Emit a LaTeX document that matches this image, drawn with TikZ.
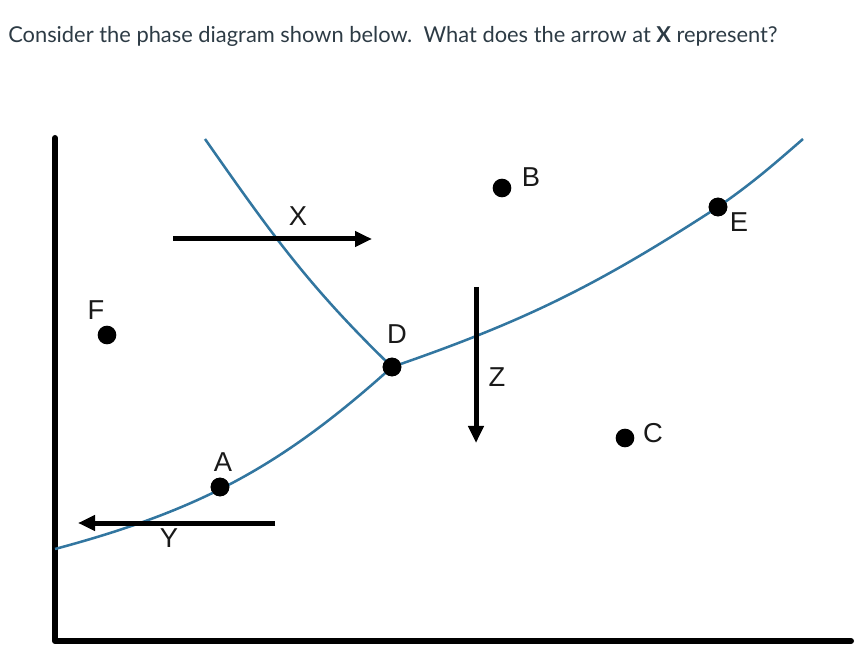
\documentclass[tikz,border=0pt]{standalone}
\usepackage{fontspec}
\setmainfont{Lato}
\newfontfamily\lblfont{Liberation Sans}
\usetikzlibrary{arrows.meta}

\definecolor{curvecol}{RGB}{50,118,160}
\definecolor{titlecol}{RGB}{45,59,69}

\begin{document}
\begin{tikzpicture}[x=0.75pt,y=-0.75pt,>={Triangle[length=12.75pt,width=11.25pt]},
  dot/.style={circle,fill=black,inner sep=0pt,minimum size=14pt},
  lbl/.style={font=\lblfont\fontsize{20.5}{24}\selectfont,text=black!90,inner sep=0pt},
  curve/.style={draw=curvecol,line width=1.9pt},
  arr/.style={->,line width=3.75pt,shorten >=0pt}]

\useasboundingbox (0,0) rectangle (867,655);

\node[anchor=base west,text=titlecol,inner sep=0pt,font=\fontsize{16.4}{20}\selectfont] (title) at (8,43)
  {Consider the phase diagram shown below.\ \ What does the arrow at \textbf{X} represent?};

% axes
\draw[line width=4.5pt,line cap=round,line join=round] (55,138) -- (55,641) -- (851,641);

% points
\node[dot] (F) at (107,335) {};
\node[dot] (A) at (220,487) {};
\node[dot] (D) at (392,367) {};
\node[dot] (B) at (502,188) {};
\node[dot] (C) at (625,438) {};
\node[dot] (E) at (718,207) {};

\coordinate (sstart) at (55,549);
\coordinate (send)   at (803,139);
\coordinate (ftop)   at (205,139);

% phase boundaries
\path[curve] (sstart) to[out=15,in=222] (D.center)
                      to[out=19,in=213] (E.center)
                      to[out=35,in=221] (send);
\path[curve] (ftop) to[out=-55,in=136] (D.center);

% redraw dots on top
\foreach \p in {A,D,E} \fill (\p) circle (7pt);

% labels
\node[lbl] (lF) at (96,310) {F};
\node[lbl] (lA) at (223,462) {A};
\node[lbl] (lD) at (397,334) {D};
\node[lbl] (lB) at (531,177) {B};
\node[lbl] (lC) at (653,433) {C};
\node[lbl] (lE) at (739,222) {E};
\node[lbl] (lX) at (298,216) {X};
\node[lbl] (lY) at (169,538) {Y};
\node[lbl] (lZ) at (497,377) {Z};

% arrows
\coordinate (x1) at (173,239);
\coordinate (x2) at (372,239);
\coordinate (y1) at (275,523);
\coordinate (y2) at (78,523);
\coordinate (z1) at (476,287);
\coordinate (z2) at (476,443);

\draw[arr] (x1) -- (x2);
\draw[arr] (y1) -- (y2);
\draw[arr] (z1) -- (z2);

\end{tikzpicture}
\end{document}
